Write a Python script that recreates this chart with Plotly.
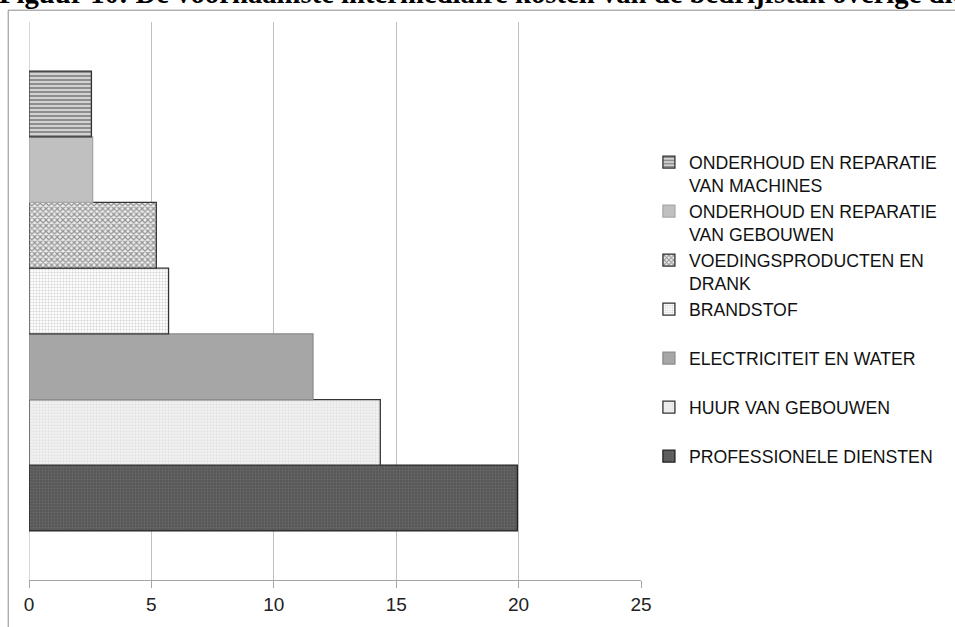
import plotly.graph_objects as go

# ---- data ----
category = ["Kosten"]
series_names = [
    "PROFESSIONELE DIENSTEN",
    "HUUR VAN GEBOUWEN",
    "ELECTRICITEIT EN WATER",
    "BRANDSTOF",
    "VOEDINGSPRODUCTEN EN<br>DRANK",
    "ONDERHOUD EN REPARATIE<br>VAN GEBOUWEN",
    "ONDERHOUD EN REPARATIE<br>VAN MACHINES",
]
series_values = [19.95, 14.35, 11.6, 5.7, 5.2, 2.6, 2.55]
x_ticks = [0, 5, 10, 15, 20, 25]
title_text = "Figuur 10: De voornaamste intermediaire kosten van de bedrijfstak overige diensten"

# ---- styles ----
styles = [
    dict(pattern=dict(shape=".", fgcolor="#7d7d7d", bgcolor="#575757", size=3, solidity=0.35), line="#222222"),
    dict(pattern=dict(shape=".", fgcolor="#d0d0d0", bgcolor="#f4f4f4", size=3, solidity=0.45), line="#333333"),
    dict(color="#a6a6a6", line="#8c8c8c"),
    dict(pattern=dict(shape=".", fgcolor="#a8a8a8", bgcolor="#ffffff", size=3, solidity=0.4), line="#333333"),
    dict(pattern=dict(shape="x", fgcolor="#333333", bgcolor="#eeeeee", size=4, solidity=0.5), line="#333333"),
    dict(color="#c0c0c0", line="#a8a8a8"),
    dict(pattern=dict(shape="-", fgcolor="#3c3c3c", bgcolor="#d2d2d2", size=4, solidity=0.45), line="#333333"),
]

fig = go.Figure()
for name, val, st in zip(series_names, series_values, styles):
    label = name if "<br>" in name else name + "<br> "
    marker = dict(line=dict(color=st["line"], width=1.3))
    if "pattern" in st:
        marker["color"] = st["pattern"]["bgcolor"]
        marker["pattern"] = dict(fillmode="overlay", **st["pattern"])
    else:
        marker["color"] = st["color"]
    fig.add_trace(go.Bar(
        x=[val], y=category, orientation="h", name=label, marker=marker,
        hoverinfo="x+name",
    ))

W, H = 955, 627
L, R, T, B = 29, 308, 22, 38
pw, ph = W - L - R, H - T - B

def px_x(px):
    return (px - L) / pw

def px_y(py):
    return (H - B - py) / ph

fig.update_layout(
    width=W, height=H,
    margin=dict(l=L, r=R, t=T, b=B, pad=0),
    paper_bgcolor="white", plot_bgcolor="white",
    barmode="group", bargap=0.176, bargroupgap=0,
    font=dict(family="Liberation Sans, Arial, sans-serif", color="#222222", size=18),
    showlegend=True,
    legend=dict(
        x=px_x(655), y=px_y(146), xanchor="left", yanchor="top",
        traceorder="reversed", valign="top",
        font=dict(size=17.7, color="#111111"),
        bgcolor="rgba(0,0,0,0)", borderwidth=0,
    ),
    xaxis=dict(
        range=[0, 25], tickmode="array", tickvals=x_ticks,
        showgrid=True, gridcolor="#bfbfbf", gridwidth=1,
        zeroline=True, zerolinecolor="#d6d6d6", zerolinewidth=1,
        showline=True, linecolor="#a6a6a6", linewidth=1,
        ticks="outside", ticklen=7, tickcolor="#a6a6a6",
        tickfont=dict(size=19, color="#222222"),
        fixedrange=True,
    ),
    yaxis=dict(
        type="category", range=[-0.5, 0.5],
        showticklabels=False, showgrid=False, zeroline=False, showline=False,
        ticks="", fixedrange=True,
    ),
    shapes=[dict(
        type="rect", xref="paper", yref="paper",
        x0=px_x(8), x1=px_x(990), y0=px_y(10), y1=px_y(680),
        line=dict(color="#8c8c8c", width=1), fillcolor="rgba(0,0,0,0)", layer="below",
    )],
    annotations=[dict(
        text="<b>" + title_text + "</b>", xref="paper", yref="paper",
        x=px_x(-3), y=px_y(11), xanchor="left", yanchor="bottom",
        showarrow=False, align="left",
        font=dict(family="Liberation Serif, Times New Roman, serif", size=28.7, color="#000000"),
    )],
)

fig.write_html(
    "out.html",
    config={"displayModeBar": False},
    post_script="document.body.style.margin='0';document.body.style.overflow='hidden';",
)
